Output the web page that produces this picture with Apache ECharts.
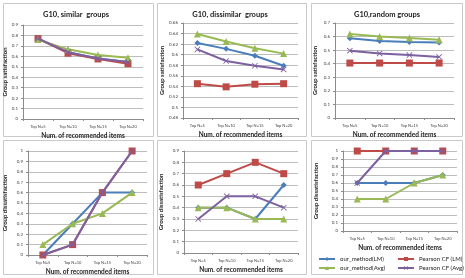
<!DOCTYPE html>
<html>
<head>
<meta charset="utf-8">
<script src="https://cdn.jsdelivr.net/npm/echarts@6/dist/echarts.min.js"></script>
<style>
  html, body { margin: 0; padding: 0; background: #fff; }
  #chart { width: 465px; height: 278px; }
</style>
</head>
<body>
<div id="chart"></div>
<script>
// categories and series names
var categories = ["Top N=5", "Top N=10", "Top N=15", "Top N=20"];
var seriesNames = ["our_method(LM)", "Pearson CF (LM)", "our_method(Avg)", "Pearson CF (Avg)"];

// G10, similar groups (satisfaction)
var similarOurLM = [0.77, 0.64, 0.58, 0.545];
var similarPearsonLM = [0.77, 0.63, 0.575, 0.53];
var similarOurAvg = [0.76, 0.667, 0.612, 0.587];
var similarPearsonAvg = [0.77, 0.64, 0.58, 0.545];

// G10, dissimilar groups (satisfaction)
var dissimOurLM = [0.622, 0.611, 0.598, 0.579];
var dissimPearsonLM = [0.545, 0.539, 0.544, 0.545];
var dissimOurAvg = [0.639, 0.625, 0.612, 0.602];
var dissimPearsonAvg = [0.61, 0.588, 0.579, 0.572];

// G10, random groups (satisfaction)
var randomOurLM = [0.587, 0.567, 0.56, 0.557];
var randomPearsonLM = [0.405, 0.405, 0.405, 0.405];
var randomOurAvg = [0.619, 0.6, 0.589, 0.577];
var randomPearsonAvg = [0.496, 0.476, 0.464, 0.45];

// dissatisfaction panels (bottom row)
var dis1OurLM = [0, 0.3, 0.6, 0.6];
var dis1PearsonLM = [0, 0.1, 0.6, 1];
var dis1OurAvg = [0.1, 0.3, 0.4, 0.6];
var dis1PearsonAvg = [0, 0.1, 0.6, 1];

var dis2OurLM = [0.4, 0.4, 0.3, 0.6];
var dis2PearsonLM = [0.6, 0.7, 0.8, 0.7];
var dis2OurAvg = [0.4, 0.4, 0.3, 0.3];
var dis2PearsonAvg = [0.3, 0.5, 0.5, 0.4];

var dis3OurLM = [0.6, 0.6, 0.6, 0.7];
var dis3PearsonLM = [1, 1, 1, 1];
var dis3OurAvg = [0.4, 0.4, 0.6, 0.7];
var dis3PearsonAvg = [0.6, 1, 1, 1];

// y axis ranges per panel
var yMins = [0, 0.48, 0, 0, 0, 0];
var yMaxs = [0.9, 0.66, 0.7, 1, 0.9, 1];
var ySteps = [0.1, 0.02, 0.1, 0.1, 0.1, 0.1];

var titles = ["G10, similar  groups", "G10, dissimilar  groups", "G10,random groups"];

var panelData = [
  [similarOurLM, similarPearsonLM, similarOurAvg, similarPearsonAvg],
  [dissimOurLM, dissimPearsonLM, dissimOurAvg, dissimPearsonAvg],
  [randomOurLM, randomPearsonLM, randomOurAvg, randomPearsonAvg],
  [dis1OurLM, dis1PearsonLM, dis1OurAvg, dis1PearsonAvg],
  [dis2OurLM, dis2PearsonLM, dis2OurAvg, dis2PearsonAvg],
  [dis3OurLM, dis3PearsonLM, dis3OurAvg, dis3PearsonAvg]
];

// layout
var grids = [
  { left: 23, top: 25, width: 120, height: 94 },
  { left: 183, top: 23, width: 115, height: 95 },
  { left: 335, top: 23, width: 119, height: 95 },
  { left: 28, top: 151, width: 119, height: 104 },
  { left: 184, top: 151, width: 114, height: 102 },
  { left: 343, top: 151, width: 114, height: 80 }
];
var yNameGaps = [15, 18, 17, 20, 20, 24];
var panelRects = [
  [3, 3, 150, 133], [157, 3, 149, 133], [311, 3, 151, 133],
  [3, 140, 150, 134], [157, 140, 149, 134], [311, 140, 151, 134]
];
var titleX = [76, 230, 387];

var colors = ["#4a7ebb", "#be4b48", "#98b954", "#7d60a0"];
var crossPath = "path://M0,1L1,0L5,4L9,0L10,1L6,5L10,9L9,10L5,6L1,10L0,9L4,5Z";
var symbols = ["diamond", "rect", "triangle", crossPath];
var symbolSizes = [6, 7, 7, 6];
var font = "Lato, 'Liberation Sans', sans-serif";

var chart = echarts.init(document.getElementById("chart"), null, { renderer: "canvas" });

var option = {
  backgroundColor: "#fff",
  animation: false,
  textStyle: { fontFamily: font },
  grid: [],
  xAxis: [],
  yAxis: [],
  series: [],
  legend: [
    {
      left: 313, top: 251, orient: "vertical", itemGap: 3,
      itemWidth: 16, itemHeight: 5,
      data: [seriesNames[0], seriesNames[2]],
      textStyle: { fontSize: 6, color: "#222", fontFamily: font }
    },
    {
      left: 392, top: 251, orient: "vertical", itemGap: 3,
      itemWidth: 16, itemHeight: 5,
      data: [seriesNames[1], seriesNames[3]],
      textStyle: { fontSize: 6, color: "#222", fontFamily: font }
    }
  ],
  graphic: []
};

panelRects.forEach(function (r) {
  option.graphic.push({
    type: "rect", silent: true, z: -1,
    shape: { x: r[0] + 0.5, y: r[1] + 0.5, width: r[2], height: r[3] },
    style: { fill: "#fff", stroke: "#c9c9c9", lineWidth: 1 }
  });
});
titles.forEach(function (t, i) {
  option.graphic.push({
    type: "text", silent: true,
    x: titleX[i], y: 15,
    style: {
      text: t, fill: "#222", font: "bold 7.5px " + font,
      textAlign: "center", textVerticalAlign: "middle"
    }
  });
});

grids.forEach(function (g, i) {
  option.grid.push(g);
  option.xAxis.push({
    type: "category", gridIndex: i, data: categories,
    name: "Num. of recommended items", nameLocation: "middle", nameGap: 13,
    nameTextStyle: { fontSize: 6.5, fontWeight: "bold", color: "#222" },
    axisLine: { lineStyle: { color: "#8c8c8c", width: 1 } },
    axisTick: { show: true, length: 2, lineStyle: { color: "#8c8c8c" } },
    axisLabel: { fontSize: 4, color: "#444", margin: 6 }
  });
  option.yAxis.push({
    type: "value", gridIndex: i,
    min: yMins[i], max: yMaxs[i], interval: ySteps[i],
    name: i < 3 ? "Group satisfaction" : "Group dissatisfaction",
    nameLocation: "middle", nameRotate: 90, nameGap: yNameGaps[i],
    nameTextStyle: { fontSize: 6, fontWeight: "bold", color: "#222" },
    axisLine: { show: true, lineStyle: { color: "#8c8c8c", width: 1 } },
    axisTick: { show: true, length: 2, lineStyle: { color: "#8c8c8c" } },
    splitLine: { lineStyle: { color: "#bdbdbd", width: 1 } },
    axisLabel: {
      fontSize: 4.5, color: "#444", margin: 5,
      formatter: function (v) { return String(+v.toFixed(2)); }
    }
  });
  panelData[i].forEach(function (d, k) {
    option.series.push({
      type: "line", name: seriesNames[k],
      xAxisIndex: i, yAxisIndex: i,
      data: d,
      symbol: symbols[k], symbolSize: symbolSizes[k],
      lineStyle: { color: colors[k], width: 2 },
      itemStyle: { color: colors[k] },
      z: 2 + k
    });
  });
});

chart.setOption(option);
</script>
</body>
</html>
